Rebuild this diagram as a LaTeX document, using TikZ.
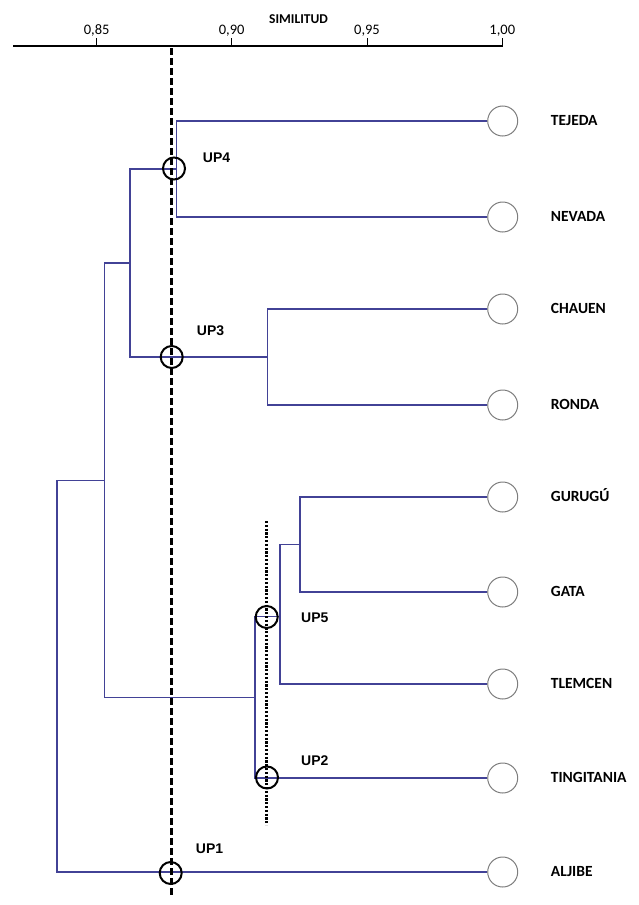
\documentclass[tikz,border=0pt]{standalone}
\usepackage{fontspec}
\setmainfont{Carlito}
\newfontfamily\upfont{Liberation Sans}
\definecolor{dendro}{RGB}{66,66,150}
\definecolor{leafgray}{RGB}{125,125,125}
\begin{document}
\begin{tikzpicture}[x=1pt,y=-1pt,
  branch/.style={draw=dendro, line width=1.2pt},
  leaf/.style={circle, draw=leafgray, line width=1pt, minimum size=30pt, inner sep=0pt},
  leaflabel/.style={anchor=west, font=\bfseries\fontsize{15.5}{15.5}\selectfont, inner sep=0pt, text height=9.9pt, text depth=0pt},
  upmark/.style={circle, draw=black, line width=2pt, minimum size=22pt, inner sep=0pt},
  uplabel/.style={anchor=west, font=\upfont\bfseries\fontsize{14}{14}\selectfont, inner sep=0pt, text height=10pt, text depth=0pt},
  ticklabel/.style={anchor=base, font=\fontsize{14.5}{14.5}\selectfont, inner sep=0pt},
  axistitle/.style={anchor=base, font=\bfseries\fontsize{13.5}{13.5}\selectfont, inner sep=0pt},
  axisline/.style={draw=black, line width=1.8pt},
  tickline/.style={draw=black, line width=1pt},
  cutline/.style={draw=black, line width=2.6pt, dash pattern=on 7pt off 3pt},
  subcut/.style={draw=black, line width=3pt, dash pattern=on 2.2pt off 1.6pt}]
\useasboundingbox (0,0) rectangle (638,905);

% axis
\coordinate (axL) at (13,46);
\coordinate (axR) at (502.3,46);
\draw[axisline] (axL) -- (axR);
\foreach \x/\lab/\nm in {96.7/{0,85}/a, 231.7/{0,90}/b, 367/{0,95}/c, 502.3/{1,00}/d}{
  \coordinate (tick\nm b) at (\x,46.5);
  \coordinate (tick\nm t) at (\x,38);
  \draw[tickline] (tick\nm b) -- (tick\nm t);
  \node[ticklabel] (ticklab\nm) at (\x,34.3) {\lab};
}
\node[axistitle] (title) at (298.5,23.3) {SIMILITUD};

% leaves
\node[leaf] (tejeda) at (502.7,121) {};
\node[leaf] (nevada) at (502.7,217) {};
\node[leaf] (chauen) at (502.7,309) {};
\node[leaf] (ronda) at (502.7,405) {};
\node[leaf] (gurugu) at (502.7,497) {};
\node[leaf] (gata) at (502.7,592) {};
\node[leaf] (tlemcen) at (502.7,684) {};
\node[leaf] (tingitania) at (502.7,778) {};
\node[leaf] (aljibe) at (502.7,872) {};

\node[leaflabel] (ltejeda) at (550.7,121) {TEJEDA};
\node[leaflabel] (lnevada) at (550.7,217) {NEVADA};
\node[leaflabel] (lchauen) at (550.7,309) {CHAUEN};
\node[leaflabel] (lronda) at (550.7,405) {RONDA};
\node[leaflabel] (lgurugu) at (550.7,497) {GURUGÚ};
\node[leaflabel] (lgata) at (550.7,592) {GATA};
\node[leaflabel] (ltlemcen) at (550.7,684) {TLEMCEN};
\node[leaflabel] (ltingitania) at (550.7,778) {TINGITANIA};
\node[leaflabel] (laljibe) at (550.7,872) {ALJIBE};

% cluster junctions
\coordinate (cTN) at (176.7,169);
\coordinate (cCR) at (267.3,357);
\coordinate (cA) at (130,263);
\coordinate (cGG) at (300,544.5);
\coordinate (cGT) at (280,616.5);
\coordinate (cM) at (255,697.5);
\coordinate (cB) at (104.3,480.5);
\coordinate (cRoot) at (57,676);

\draw[branch] (tejeda.west) -| (cTN) |- (nevada.west);
\draw[branch] (chauen.west) -| (cCR) |- (ronda.west);
\draw[branch] (cTN) -| (cA) |- (cCR);
\draw[branch] (gurugu.west) -| (cGG) |- (gata.west);
\draw[branch] (cGG) -| (cGT) |- (tlemcen.west);
\draw[branch] (cGT) -| (cM) |- (tingitania.west);
\draw[branch] (cA) -| (cB) |- (cM);
\draw[branch] (cB) -| (cRoot) |- (aljibe.west);

% cut lines
\coordinate (cutTop) at (171.5,48);
\coordinate (cutBot) at (171.5,898);
\draw[cutline] (cutTop) -- (cutBot);
\coordinate (subTop) at (266,521);
\coordinate (subBot) at (266,825);
\draw[subcut] (subTop) -- (subBot);

% UP markers
\node[upmark] (up4) at (174,168.5) {};
\node[upmark] (up3) at (171.7,357) {};
\node[upmark] (up1) at (170.7,873) {};
\node[upmark] (up5) at (266.7,617) {};
\node[upmark] (up2) at (267,777.5) {};

\node[uplabel] (lup4) at (202.7,157) {UP4};
\node[uplabel] (lup3) at (196.7,330.7) {UP3};
\node[uplabel] (lup5) at (301,617) {UP5};
\node[uplabel] (lup2) at (301,760) {UP2};
\node[uplabel] (lup1) at (195.7,848) {UP1};
\end{tikzpicture}
\end{document}
